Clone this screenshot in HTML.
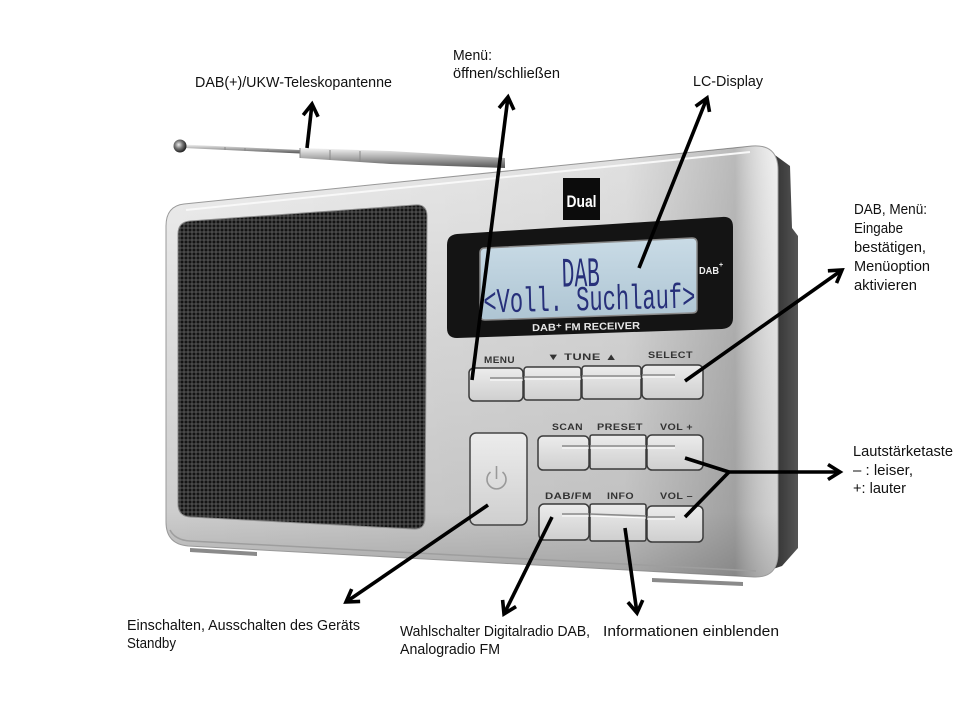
<!DOCTYPE html>
<html><head><meta charset="utf-8"><style>
html,body{margin:0;padding:0;background:#fff;}
svg{display:block;}
.t{font-family:"Liberation Sans",sans-serif;font-size:14.5px;fill:#111;}
.b{font-family:"Liberation Sans",sans-serif;font-weight:bold;font-size:9.5px;fill:#333;letter-spacing:0.4px;}
.lcd{font-family:"Liberation Mono","DejaVu Sans Mono",monospace;fill:#27307a;}
</style></head><body>
<svg width="960" height="720" viewBox="0 0 960 720" xmlns="http://www.w3.org/2000/svg">
<defs>
<linearGradient id="body" x1="0" y1="0" x2="0" y2="1">
<stop offset="0" stop-color="#efefef"/><stop offset="0.45" stop-color="#dcdcdc"/><stop offset="0.85" stop-color="#cdcdcd"/><stop offset="1" stop-color="#adadad"/>
</linearGradient>
<linearGradient id="rshade" x1="0" y1="0" x2="1" y2="0">
<stop offset="0" stop-color="#000" stop-opacity="0"/><stop offset="0.75" stop-color="#000" stop-opacity="0.06"/><stop offset="0.93" stop-color="#000" stop-opacity="0.22"/><stop offset="1" stop-color="#fff" stop-opacity="0.1"/>
</linearGradient>
<linearGradient id="side" x1="0" y1="0" x2="1" y2="0">
<stop offset="0" stop-color="#2a2a2a"/><stop offset="1" stop-color="#555"/>
</linearGradient>
<linearGradient id="lcdg" x1="0" y1="0" x2="0" y2="1">
<stop offset="0" stop-color="#c9dbe6"/><stop offset="1" stop-color="#aec5d3"/>
</linearGradient>
<linearGradient id="btn" x1="0" y1="0" x2="0" y2="1">
<stop offset="0" stop-color="#ececec"/><stop offset="1" stop-color="#cfcfcf"/>
</linearGradient>
<linearGradient id="ant" x1="0" y1="0" x2="0" y2="1">
<stop offset="0" stop-color="#f4f4f4"/><stop offset="0.5" stop-color="#a8a8a8"/><stop offset="1" stop-color="#555"/>
</linearGradient>
<radialGradient id="ball" cx="0.4" cy="0.4" r="0.6">
<stop offset="0" stop-color="#eee"/><stop offset="0.5" stop-color="#777"/><stop offset="1" stop-color="#222"/>
</radialGradient>
<pattern id="dots" width="4" height="4" patternUnits="userSpaceOnUse">
<rect width="4" height="4" fill="#4a4a4a"/><circle cx="2" cy="2" r="1.5" fill="#141414"/>
</pattern>
<marker id="ah" markerUnits="userSpaceOnUse" markerWidth="30" markerHeight="30" refX="15" refY="15" orient="auto" viewBox="0 0 30 30">
<path d="M3,7.5 L15,15 L3,22.5" fill="none" stroke="#000" stroke-width="3.6" stroke-linejoin="miter"/>
</marker>
</defs>

<!-- antenna -->
<path d="M184,144.5 L300,150 L300,153.5 L184,148 Z" fill="url(#ant)"/>
<path d="M300,148 L390,151 L505,158 L505,168 L390,164 L300,158 Z" fill="url(#ant)"/>
<path d="M225,147 L225,150 M245,148 L245,151 M268,149 L268,152 M300,148 L300,158 M330,150 L330,160 M360,151 L360,162" stroke="#888" stroke-width="1"/>
<circle cx="180" cy="146" r="6.5" fill="url(#ball)"/>

<!-- dark right side -->
<path d="M768,150 L790,166 L792,228 L798,236 L798,548 L782,566 L770,570 Z" fill="url(#side)"/>

<!-- body -->
<path d="M184,204 L752,146 Q778,144 778,170 L778,553 Q778,578 754,577 L188,546 Q166,544 166,522 L166,226 Q166,206 184,204 Z" fill="url(#body)" stroke="#9a9a9a" stroke-width="1"/>
<path d="M184,204 L752,146 Q778,144 778,170 L778,553 Q778,578 754,577 L188,546 Q166,544 166,522 L166,226 Q166,206 184,204 Z" fill="url(#rshade)"/>
<path d="M186,210 L750,152" stroke="#f8f8f8" stroke-width="2" fill="none"/>
<path d="M170,530 Q175,540 190,541 L756,571" stroke="#9e9e9e" stroke-width="1.5" fill="none"/>
<!-- feet -->
<path d="M190,548 L257,552 L257,556 L190,552 Z" fill="#8a8a8a"/>
<path d="M652,578 L743,582 L743,586 L652,582 Z" fill="#8a8a8a"/>

<!-- speaker grille -->
<path d="M190,221 L415,205 Q427,204 427,216 L425,518 Q425,530 413,529 L190,517 Q178,516 178,504 L178,234 Q178,222 190,221 Z" fill="url(#dots)" stroke="#8e8e8e" stroke-width="1"/>

<!-- Dual logo -->
<rect x="563" y="178" width="37" height="42" fill="#0c0c0c"/>
<text x="581.5" y="207" text-anchor="middle" font-family="Liberation Sans,sans-serif" font-weight="bold" font-size="17" fill="#fff" textLength="30" lengthAdjust="spacingAndGlyphs">Dual</text>

<!-- display bezel -->
<path d="M457,234 L722,217 Q733,216 733,227 L733,318 Q733,328 722,329 L457,338 Q447,338 447,328 L447,245 Q447,235 457,234 Z" fill="#141414"/>
<path d="M485,248 L692,238 Q697,238 697,243 L697,309 Q697,313 692,313 L485,320 Q480,320 480,315 L480,253 Q480,248 485,248 Z" fill="url(#lcdg)" stroke="#8a8a8a" stroke-width="1.5"/>
<g transform="rotate(-1.4 590 285)">
<text class="lcd" x="562" y="286" font-size="42" textLength="38" lengthAdjust="spacingAndGlyphs">DAB</text>
<text class="lcd" x="483" y="310" font-size="35" textLength="212" lengthAdjust="spacingAndGlyphs">&lt;Voll. Suchlauf&gt;</text>
</g>
<text x="699" y="274" font-family="Liberation Sans,sans-serif" font-weight="bold" font-size="10" fill="#eee" textLength="20" lengthAdjust="spacingAndGlyphs">DAB</text>
<text x="719" y="267" font-family="Liberation Sans,sans-serif" font-weight="bold" font-size="7" fill="#eee">+</text>
<text x="532" y="330" font-family="Liberation Sans,sans-serif" font-weight="bold" font-size="10" fill="#e8e8e8" textLength="108" lengthAdjust="spacingAndGlyphs" transform="rotate(-1.2 585 326)">DAB⁺ FM RECEIVER</text>

<!-- row 1 labels -->
<text class="b" x="484" y="363" textLength="31" lengthAdjust="spacingAndGlyphs">MENU</text>
<text class="b" x="547" y="360" textLength="71" lengthAdjust="spacingAndGlyphs">▼ TUNE ▲</text>
<text class="b" x="648" y="358" textLength="45" lengthAdjust="spacingAndGlyphs">SELECT</text>
<!-- row 1 buttons -->
<g stroke="#3a3a3a" stroke-width="1.5" fill="url(#btn)">
<rect x="469" y="368" width="54" height="33" rx="5"/>
<rect x="524" y="367" width="57" height="33" rx="3"/>
<rect x="582" y="366" width="59" height="33" rx="3"/>
<rect x="642" y="365" width="61" height="34" rx="5"/>
</g>
<g stroke="#8a8a8a" stroke-width="1.6" fill="none">
<path d="M490,378 L523,378"/><path d="M524,377 L581,377"/><path d="M582,376 L641,376"/><path d="M642,375 L675,375"/>
</g>
<g stroke="#fff" stroke-width="1" fill="none">
<path d="M490,380 L523,380"/><path d="M524,379 L581,379"/><path d="M582,378 L641,378"/><path d="M642,377 L675,377"/>
</g>

<!-- power button -->
<rect x="470" y="433" width="57" height="92" rx="6" fill="url(#btn)" stroke="#444" stroke-width="1.5"/>
<path d="M490.5,472 A9.5,9.5 0 1 0 502.5,472" fill="none" stroke="#999" stroke-width="1.6"/>
<path d="M496.5,466 L496.5,479" stroke="#999" stroke-width="1.6"/>

<!-- row 2 -->
<text class="b" x="552" y="430" textLength="31" lengthAdjust="spacingAndGlyphs">SCAN</text>
<text class="b" x="597" y="430" textLength="46" lengthAdjust="spacingAndGlyphs">PRESET</text>
<text class="b" x="660" y="430" textLength="33" lengthAdjust="spacingAndGlyphs">VOL +</text>
<g stroke="#3a3a3a" stroke-width="1.5" fill="url(#btn)">
<rect x="538" y="436" width="51" height="34" rx="5"/>
<rect x="590" y="435" width="56" height="34" rx="2"/>
<rect x="647" y="435" width="56" height="35" rx="5"/>
</g>
<g stroke="#8a8a8a" stroke-width="1.6" fill="none"><path d="M562,446 L589,446"/><path d="M590,446 L646,446"/><path d="M647,446 L675,446"/></g>
<g stroke="#fff" stroke-width="1" fill="none"><path d="M562,448 L589,448"/><path d="M590,448 L646,448"/><path d="M647,448 L675,448"/></g>

<!-- row 3 -->
<text class="b" x="545" y="499" textLength="47" lengthAdjust="spacingAndGlyphs">DAB/FM</text>
<text class="b" x="607" y="499" textLength="27" lengthAdjust="spacingAndGlyphs">INFO</text>
<text class="b" x="660" y="499" textLength="33" lengthAdjust="spacingAndGlyphs">VOL –</text>
<g stroke="#3a3a3a" stroke-width="1.5" fill="url(#btn)">
<rect x="539" y="504" width="50" height="36" rx="5"/>
<rect x="590" y="504" width="56" height="37" rx="2"/>
<rect x="647" y="506" width="56" height="36" rx="5"/>
</g>
<g stroke="#8a8a8a" stroke-width="1.6" fill="none"><path d="M562,514 L589,514"/><path d="M590,514 L646,516"/><path d="M647,517 L675,517"/></g>
<g stroke="#fff" stroke-width="1" fill="none"><path d="M562,516 L589,516"/><path d="M590,516 L646,518"/><path d="M647,519 L675,519"/></g>

<!-- arrows -->
<g stroke="#000" stroke-width="3.6" fill="none" stroke-linecap="butt">
<line x1="307" y1="148" x2="312" y2="104" marker-end="url(#ah)"/>
<line x1="472" y1="380" x2="508" y2="97" marker-end="url(#ah)"/>
<line x1="639" y1="268" x2="707" y2="98" marker-end="url(#ah)"/>
<line x1="685" y1="381" x2="842" y2="270" marker-end="url(#ah)"/>
<line x1="685" y1="458" x2="729" y2="472"/>
<line x1="685" y1="517" x2="729" y2="472"/>
<line x1="727" y1="472" x2="840" y2="472" marker-end="url(#ah)"/>
<line x1="488" y1="505" x2="346" y2="602" marker-end="url(#ah)"/>
<line x1="552" y1="517" x2="504" y2="614" marker-end="url(#ah)"/>
<line x1="625" y1="528" x2="637" y2="613" marker-end="url(#ah)"/>
</g>

<!-- labels -->
<text class="t" x="195" y="87" textLength="197" lengthAdjust="spacingAndGlyphs">DAB(+)/UKW-Teleskopantenne</text>
<text class="t" x="453" y="60" textLength="39" lengthAdjust="spacingAndGlyphs">Menü:</text>
<text class="t" x="453" y="78" textLength="107" lengthAdjust="spacingAndGlyphs">öffnen/schließen</text>
<text class="t" x="693" y="86" textLength="70" lengthAdjust="spacingAndGlyphs">LC-Display</text>
<text class="t" x="854" y="214" textLength="73" lengthAdjust="spacingAndGlyphs">DAB, Menü:</text>
<text class="t" x="854" y="233" textLength="49" lengthAdjust="spacingAndGlyphs">Eingabe</text>
<text class="t" x="854" y="252" textLength="72" lengthAdjust="spacingAndGlyphs">bestätigen,</text>
<text class="t" x="854" y="271" textLength="76" lengthAdjust="spacingAndGlyphs">Menüoption</text>
<text class="t" x="854" y="290" textLength="63" lengthAdjust="spacingAndGlyphs">aktivieren</text>
<text class="t" x="853" y="456" textLength="100" lengthAdjust="spacingAndGlyphs">Lautstärketaste</text>
<text class="t" x="853" y="475" textLength="60" lengthAdjust="spacingAndGlyphs">– : leiser,</text>
<text class="t" x="853" y="493" textLength="53" lengthAdjust="spacingAndGlyphs">+: lauter</text>
<text class="t" x="127" y="630" textLength="233" lengthAdjust="spacingAndGlyphs">Einschalten, Ausschalten des Geräts</text>
<text class="t" x="127" y="648" textLength="49" lengthAdjust="spacingAndGlyphs">Standby</text>
<text class="t" x="400" y="636" textLength="190" lengthAdjust="spacingAndGlyphs">Wahlschalter Digitalradio DAB,</text>
<text class="t" x="400" y="654" textLength="100" lengthAdjust="spacingAndGlyphs">Analogradio FM</text>
<text class="t" x="603" y="636" textLength="176" lengthAdjust="spacingAndGlyphs">Informationen  einblenden</text>
</svg>
</body></html>
